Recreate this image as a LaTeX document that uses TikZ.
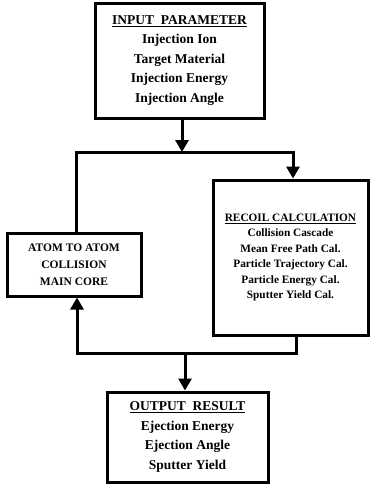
\documentclass[tikz,border=0pt]{standalone}
\usepackage{fontspec}
\setmainfont{Liberation Serif}
\usepackage{tikz}
\usetikzlibrary{arrows.meta, calc}

\begin{document}
\begin{tikzpicture}[x=1pt, y=-1pt,
          box/.style={rectangle, draw=black, line width=3pt, inner sep=0pt, align=center},
          bigText/.style={font=\fontsize{13.5}{19.5}\selectfont\bfseries},
          smallText/.style={font=\fontsize{11.3}{15.5}\selectfont\bfseries},
          coreText/.style={font=\fontsize{11.5}{17}\selectfont\bfseries},
          wire/.style={line width=3pt, draw=black, line join=miter},
          flow/.style={wire, -{Triangle[length=12pt, width=13pt]}}
        ]
          \useasboundingbox (0,0) rectangle (370,491);

          \node[box, bigText, minimum width=169pt, minimum height=115pt] (input) at (179.5, 60.5)
            {\underline{INPUT\enspace PARAMETER}\\ Injection Ion\\ Target Material\\ Injection Energy\\ Injection Angle};
          \node[box, coreText, minimum width=134pt, minimum height=63pt] (atom) at (74, 264.5)
            {ATOM TO ATOM\\ COLLISION\\ MAIN CORE};
          \node[box, smallText, minimum width=155pt, minimum height=155pt] (recoil) at (290.5, 257.5)
            {\underline{RECOIL CALCULATION}\\ Collision Cascade\\ Mean Free Path Cal.\\ Particle Trajectory Cal.\\ Particle Energy Cal.\\ Sputter Yield Cal.};
          \node[box, bigText, minimum width=161pt, minimum height=90pt] (output) at (187.5, 437)
            {\underline{OUTPUT\enspace RESULT}\\ Ejection Energy\\ Ejection Angle\\ Sputter Yield};

          % split and merge points
          \coordinate (split) at (182, 152);
          \coordinate (leftTop) at (76, 152);
          \coordinate (rightTop) at (293, 152);
          \coordinate (merge) at (185, 353);
          \coordinate (leftBot) at (77, 353);
          \coordinate (rightBot) at (296, 353);

          \draw[flow] (input.south -| split) -- (split);
          \draw[flow] (atom.north -| leftTop) -- (leftTop) -- (rightTop) -- (recoil.north -| rightTop);
          \draw[flow] (recoil.south -| rightBot) -- (rightBot) -- (leftBot) -- (atom.south -| leftBot);
          \draw[flow] (merge) -- (output.north -| merge);
        \end{tikzpicture}
\end{document}
